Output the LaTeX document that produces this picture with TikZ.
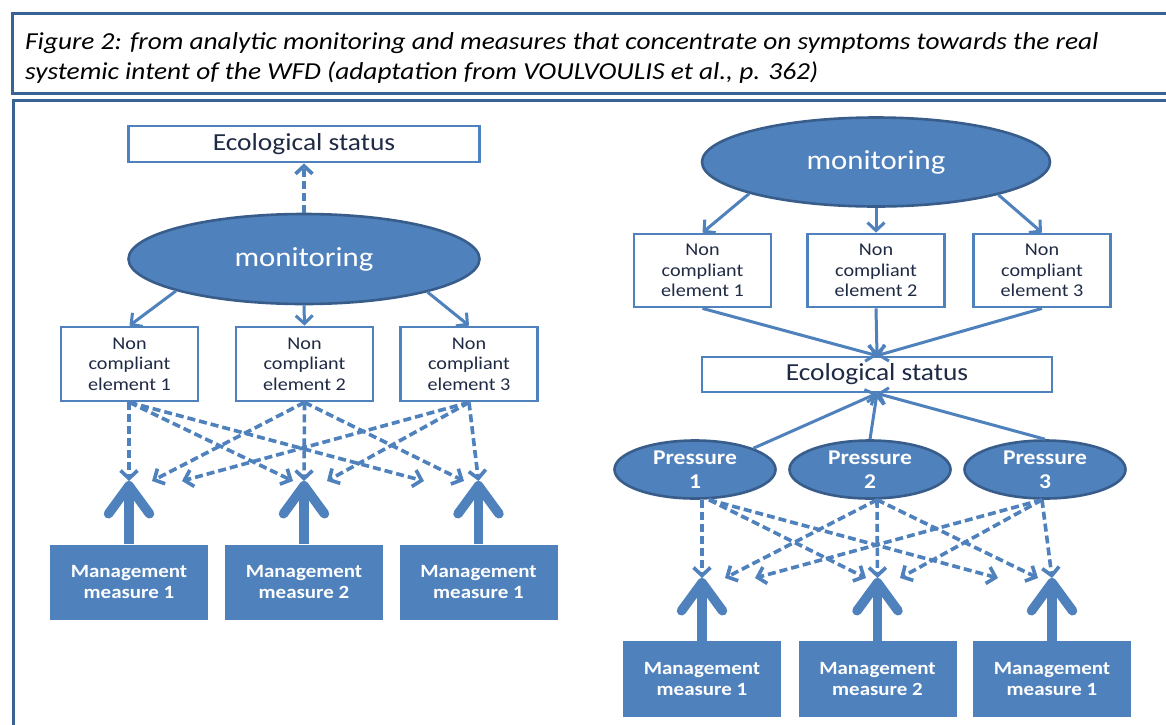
\documentclass[tikz,border=0pt]{standalone}
\usepackage{fontspec}
\setmainfont{Carlito}[FakeStretch=1.12]
\usetikzlibrary{arrows.meta,shapes.geometric,calc}
\definecolor{blu}{HTML}{4F81BD}
\definecolor{dblu}{HTML}{385D8A}
\definecolor{frm}{HTML}{3B6294}
\definecolor{txt}{HTML}{1F2A44}
\begin{document}
\begin{tikzpicture}[x=1pt,y=-1pt,
  wbox/.style={rectangle, draw=blu, line width=2.8pt, fill=white, text=txt, inner sep=0pt},
  ecobox/.style={wbox, minimum width=351pt, minimum height=36pt, font=\fontsize{24.5}{28}\selectfont},
  ncbox/.style={wbox, minimum width=137pt, minimum height=74pt, align=center, font=\fontsize{18}{20.5}\selectfont},
  monell/.style={ellipse, draw=dblu, line width=2.6pt, fill=blu, text=white, minimum width=351pt, minimum height=90pt, inner sep=0pt, font=\fontsize{27.5}{32}\selectfont},
  presell/.style={ellipse, draw=dblu, line width=2.6pt, fill=blu, text=white, minimum width=161pt, minimum height=58pt, inner sep=0pt, align=center, font=\bfseries\fontsize{21}{24}\selectfont},
  mgmt/.style={rectangle, fill=blu, text=white, minimum width=158pt, minimum height=75pt, inner sep=0pt, align=center, font=\bfseries\fontsize{18.7}{21}\selectfont},
  conn/.style={draw=blu, line width=3pt, -{Straight Barb[length=8pt,width=17pt]}},
  dconn/.style={conn, line width=3.6pt, dash pattern=on 8pt off 4pt},
  bigarrow/.style={draw=blu, line width=9.5pt, -{Straight Barb[length=28pt,width=41pt,round]}},
  captxt/.style={anchor=base west, inner sep=0pt, font=\itshape\fontsize{24.4}{28}\selectfont},
  frame/.style={draw=frm, line width=3pt}
]
\useasboundingbox (0,0) rectangle (1166,724);
\fill[white] (0,0) rectangle (1166,724);

% frames
\draw[frame] (1170,13) -- (12,13) -- (12,93) -- (1170,93);
\draw[frame] (1170,100) -- (13,100) -- (13,730);

% caption
\node[captxt] (cap1) at (25,49) {Figure 2: from analytic monitoring and measures that concentrate on symptoms towards the real};
\node[captxt] (cap2) at (25,79) {systemic intent of the WFD (adaptation from VOULVOULIS et al., p. 362)};

% ---------- left diagram ----------
\node[ecobox] (eco1) at (304,144) {Ecological status};
\node[monell] (mon1) at (304,259) {monitoring};
\node[ncbox] (nc11) at (129.5,364) {Non\\compliant\\element 1};
\node[ncbox] (nc12) at (304.5,364) {Non\\compliant\\element 2};
\node[ncbox] (nc13) at (469,364) {Non\\compliant\\element 3};
\node[mgmt] (mm11) at (129,582) {Management\\measure 1};
\node[mgmt] (mm12) at (304,582) {Management\\measure 2};
\node[mgmt] (mm13) at (478.5,582) {Management\\measure 1};

\coordinate (t11) at (129,481);
\coordinate (t12) at (304,481);
\coordinate (t13) at (478.5,481);
\coordinate (a12) at (293,481);
\coordinate (a13) at (424,481);
\coordinate (a21) at (152,481);
\coordinate (a23) at (464,481);
\coordinate (a31) at (182,481);
\coordinate (a32) at (327,481);

\draw[dconn] (mon1.north) -- (eco1.south);
\draw[conn] (mon1.194.5) -- (nc11.north);
\draw[conn] (mon1.south) -- (nc12.north);
\draw[conn] (mon1.345.5) -- (nc13.north);

\draw[dconn] (nc11.south -| t11) -- (t11);
\draw[dconn] (nc11.south) -- (a12);
\draw[dconn] (nc11.south) -- (a13);
\draw[dconn] (nc12.south) -- (a21);
\draw[dconn] (nc12.south) -- (t12);
\draw[dconn] (nc12.south) -- (a23);
\draw[dconn] (nc13.south) -- (a31);
\draw[dconn] (nc13.south) -- (a32);
\draw[dconn] (nc13.south) -- (t13);

\draw[bigarrow] (mm11.north) -- (t11);
\draw[bigarrow] (mm12.north) -- (t12);
\draw[bigarrow] (mm13.north) -- (t13);

% ---------- right diagram ----------
\node[monell, minimum width=348pt, minimum height=89pt] (mon2) at (876,162) {monitoring};
\node[ncbox, minimum height=73pt] (nc21) at (702.5,270.5) {Non\\compliant\\element 1};
\node[ncbox, minimum height=73pt] (nc22) at (876,270.5) {Non\\compliant\\element 2};
\node[ncbox, minimum height=73pt] (nc23) at (1042,270.5) {Non\\compliant\\element 3};
\node[ecobox, minimum width=350pt, minimum height=35pt] (eco2) at (877,374.5) {Ecological status};
\node[presell] (p1) at (695,469.5) {Pressure\\1};
\node[presell] (p2) at (870,469.5) {Pressure\\2};
\node[presell] (p3) at (1045,469.5) {Pressure\\3};
\node[mgmt, minimum height=76pt] (mm21) at (702,679) {Management\\measure 1};
\node[mgmt, minimum height=76pt] (mm22) at (877.5,679) {Management\\measure 2};
\node[mgmt, minimum height=76pt] (mm23) at (1052,679) {Management\\measure 1};

\coordinate (u11) at (702,578);
\coordinate (u12) at (877.5,578);
\coordinate (u13) at (1052,578);
\coordinate (b12) at (866,578);
\coordinate (b13) at (998,578);
\coordinate (b21) at (725,578);
\coordinate (b23) at (1038,578);
\coordinate (b31) at (755,578);
\coordinate (b32) at (900,578);

\draw[conn] (mon2.194.8) -- (nc21.north);
\draw[conn] (mon2.south) -- (nc22.north);
\draw[conn] (mon2.345.2) -- (nc23.north);

\draw[conn] (nc21.south) -- (eco2.north);
\draw[conn] (nc22.south) -- (eco2.north);
\draw[conn] (nc23.south) -- (eco2.north);

\draw[conn] (p1.20) -- (eco2.south);
\draw[conn] (p2.north) -- (eco2.south);
\draw[conn] (p3.north) -- (eco2.south);

\draw[dconn] (p1.south -| u11) -- (u11);
\draw[dconn] ($(p1.south)+(14,0)$) -- (b12);
\draw[dconn] ($(p1.south)+(14,0)$) -- (b13);
\draw[dconn] ($(p2.south)+(7,0)$) -- (b21);
\draw[dconn] ($(p2.south)+(7,0)$) -- (u12);
\draw[dconn] ($(p2.south)+(7,0)$) -- (b23);
\draw[dconn] ($(p3.south)+(-3,0)$) -- (b31);
\draw[dconn] ($(p3.south)+(-3,0)$) -- (b32);
\draw[dconn] ($(p3.south)+(-3,0)$) -- (u13);

\draw[bigarrow] (mm21.north) -- (u11);
\draw[bigarrow] (mm22.north) -- (u12);
\draw[bigarrow] (mm23.north) -- (u13);
\end{tikzpicture}
\end{document}
